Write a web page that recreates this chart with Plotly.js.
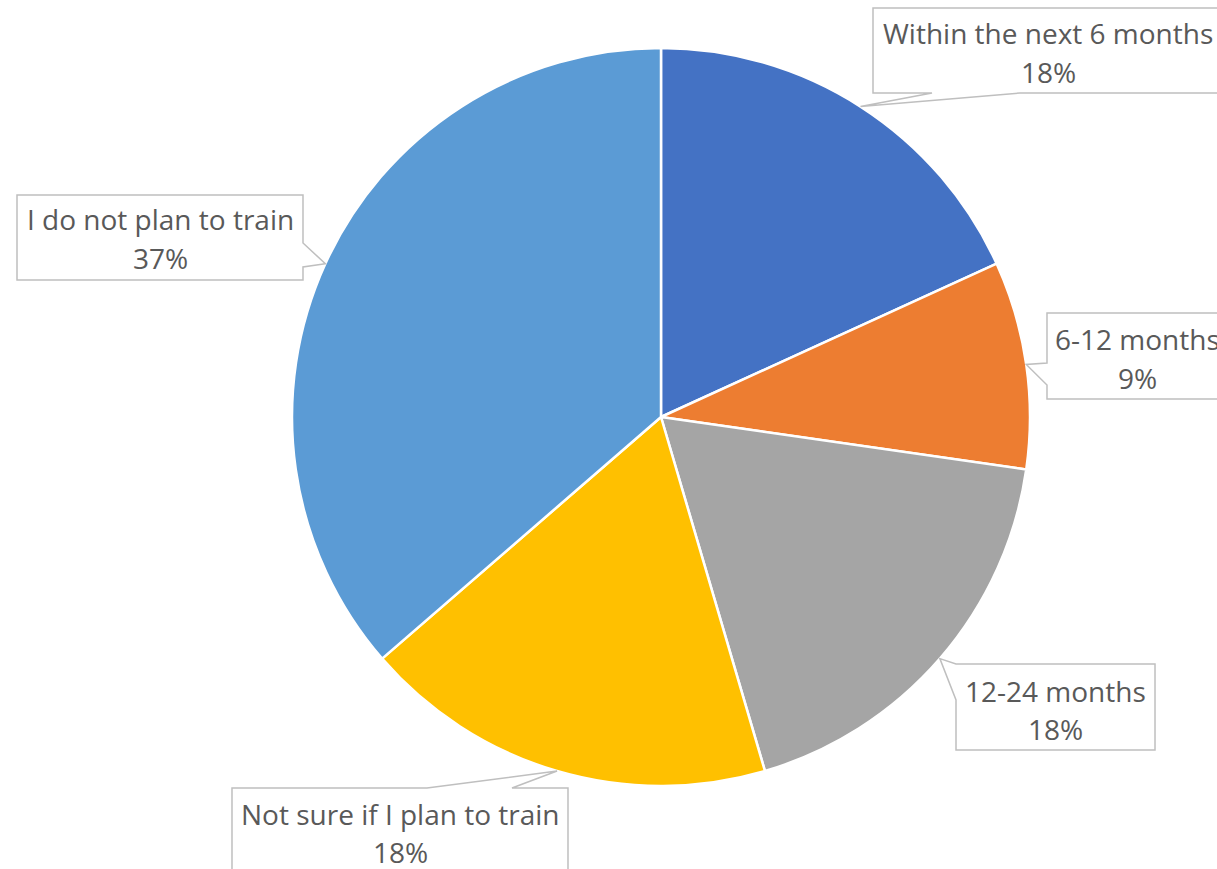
<!DOCTYPE html>
<html>
<head>
<meta charset="utf-8">
<script src="https://cdn.plot.ly/plotly-3.0.1.min.js"></script>
<style>html,body{margin:0;padding:0;background:#fff;}#chart{width:1217px;height:869px;}</style>
</head>
<body>
<div id="chart"></div>
<script>
// ---- data ----
const categories = ["Within the next 6 months", "6-12 months", "12-24 months", "Not sure if I plan to train", "I do not plan to train"];
const values = [18.2, 9.1, 18.2, 18.2, 36.4];
const percentLabels = ["18%", "9%", "18%", "18%", "37%"];
const colors = ["#4472C4", "#ED7D31", "#A5A5A5", "#FFC000", "#5B9BD5"];

// ---- layout constants (pixels) ----
const W = 1217, H = 869;
const CX = 661, CY = 417, R = 369;
// callout boxes: [left, top, right, bottom], tail edge, tail base [a,b], text center x, baselines
const callouts = [
  {box: [873, 8, 1223, 93], edge: "bottom", base: [932, 1020], tx: 1048, b1: 42, b2: 81},
  {box: [1047, 313, 1228, 399], edge: "left", base: [363, 385], tx: 1137, b1: 348, b2: 387},
  {box: [956, 664, 1155, 750], edge: "left", base: [664, 700], tx: 1055, b1: 700, b2: 738},
  {box: [232, 788, 568, 880], edge: "top", base: [427, 512], tx: 400, b1: 823, b2: 861},
  {box: [17, 195, 303, 280], edge: "right", base: [243, 267], tx: 160, b1: 229, b2: 267}
];

const px = x => x / W;
const py = y => 1 - y / H;

// slice mid-angles from data (clockwise from 12 o'clock)
const total = values.reduce((a, b) => a + b, 0);
let cum = 0;
const mids = values.map(v => { const m = (cum + v / 2) / total * 2 * Math.PI; cum += v; return m; });

const shapes = [];
const annotations = [];
callouts.forEach((c, i) => {
  const ax = CX + R * Math.sin(mids[i]);
  const ay = CY - R * Math.cos(mids[i]);
  const [l, t, r, b] = c.box;
  const [b1, b2] = c.base;
  let pts;
  if (c.edge === "top") pts = [[l, t], [b1, t], [ax, ay], [b2, t], [r, t], [r, b], [l, b]];
  else if (c.edge === "right") pts = [[l, t], [r, t], [r, b1], [ax, ay], [r, b2], [r, b], [l, b]];
  else if (c.edge === "bottom") pts = [[l, t], [r, t], [r, b], [b2, b], [ax, ay], [b1, b], [l, b]];
  else pts = [[l, t], [r, t], [r, b], [l, b], [l, b2], [ax, ay], [l, b1]];
  const path = pts.map((p, k) => (k ? "L" : "M") + px(p[0]).toFixed(5) + "," + py(p[1]).toFixed(5)).join(" ") + " Z";
  shapes.push({type: "path", xref: "paper", yref: "paper", path: path,
    fillcolor: "#FFFFFF", line: {color: "#BFBFBF", width: 1.5}, layer: "above"});
  const font = {family: "'Open Sans', 'Noto Sans', sans-serif", size: 28, color: "#595959"};
  annotations.push({xref: "paper", yref: "paper", x: px(c.tx), y: py(c.b1 - 9.5), xanchor: "center", yanchor: "middle",
    text: categories[i], showarrow: false, font: font});
  annotations.push({xref: "paper", yref: "paper", x: px(c.tx), y: py(c.b2 - 9.5), xanchor: "center", yanchor: "middle",
    text: percentLabels[i], showarrow: false, font: font});
});

const trace = {
  type: "pie",
  labels: categories,
  values: values,
  sort: false,
  direction: "clockwise",
  rotation: 0,
  textinfo: "none",
  hoverinfo: "none",
  showlegend: false,
  marker: {colors: colors, line: {color: "#FFFFFF", width: 2.5}},
  domain: {x: [px(CX - R), px(CX + R)], y: [py(CY + R), py(CY - R)]}
};

const layout = {
  width: W, height: H, autosize: false,
  margin: {l: 0, r: 0, t: 0, b: 0, pad: 0},
  paper_bgcolor: "#FFFFFF",
  showlegend: false,
  shapes: shapes,
  annotations: annotations
};

Plotly.newPlot("chart", [trace], layout, {staticPlot: true, displayModeBar: false});
</script>
</body>
</html>
